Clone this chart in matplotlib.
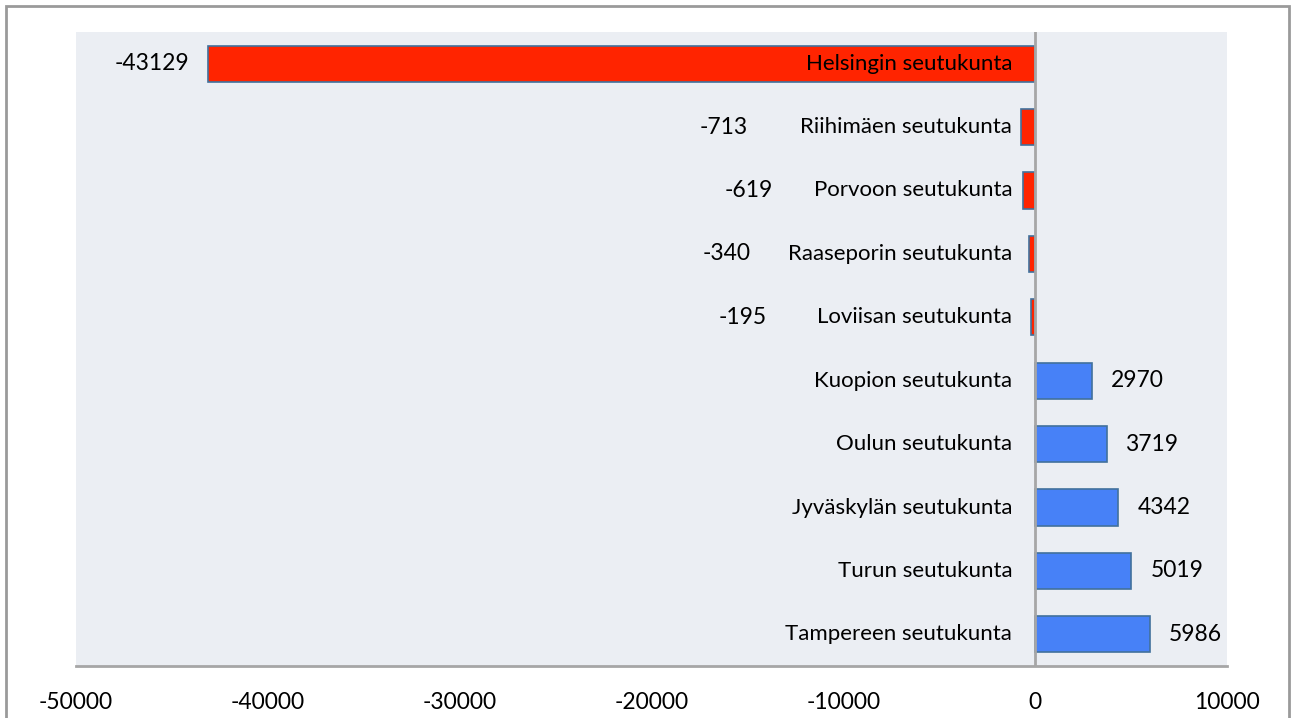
import matplotlib
matplotlib.use("Agg")
import matplotlib.pyplot as plt
from matplotlib.patches import Rectangle

categories = ["Helsingin seutukunta", "Riihimäen seutukunta", "Porvoon seutukunta",
              "Raaseporin seutukunta", "Loviisan seutukunta", "Kuopion seutukunta",
              "Oulun seutukunta", "Jyväskylän seutukunta", "Turun seutukunta",
              "Tampereen seutukunta"]
values = [-43129, -713, -619, -340, -195, 2970, 3719, 4342, 5019, 5986]
xticks = [-50000, -40000, -30000, -20000, -10000, 0, 10000]
xtick_labels = ["-50000", "-40000", "-30000", "-20000", "-10000", "0", "10000"]
# right-edge x (data units) of the manually placed negative value labels
neg_label_x = [None, -14963, -13660, -14807, -13973]

plt.rcParams['font.family'] = ['Lato', 'DejaVu Sans']
W, H = 1291, 718
fig = plt.figure(figsize=(W / 100, H / 100), dpi=100)
fig.patch.set_facecolor("white")

# outer border
fig.add_artist(Rectangle((6 / W, -0.01), (1289 - 6) / W, (718 - 6) / H + 0.01,
                         transform=fig.transFigure, fill=False,
                         edgecolor="#9a9a9a", linewidth=2))

ax = fig.add_axes([76 / W, (H - 666) / H, (1227 - 76) / W, (666 - 32) / H])
ax.set_facecolor("#EBEEF3")

red = "#FF2400"
blue = "#4781F7"
edge = "#41719C"
ypos = list(range(len(categories)))
colors = [red if v < 0 else blue for v in values]
ax.barh(ypos, values, height=0.57, color=colors, edgecolor=edge, linewidth=1.2, zorder=2)

ax.set_xlim(-50000, 10000)
ax.set_ylim(len(categories) - 0.5, -0.5)
ax.axvline(0, color="#A6A6A6", linewidth=2, zorder=3)

fs = 16
nfs = 16.5
for i, (cat, v) in enumerate(zip(categories, values)):
    ax.annotate(cat, xy=(0, i), xytext=(-23, 0), textcoords="offset pixels",
                ha="right", va="center", fontsize=fs, color="black", zorder=4)
    if v >= 0:
        ax.annotate(str(v), xy=(v, i), xytext=(19, 0), textcoords="offset pixels",
                    ha="left", va="center", fontsize=nfs, color="black", zorder=4)
    elif neg_label_x[i] is None:
        ax.annotate(str(v), xy=(v, i), xytext=(-19, 0), textcoords="offset pixels",
                    ha="right", va="center", fontsize=nfs, color="black", zorder=4)
    else:
        ax.annotate(str(v), xy=(neg_label_x[i], i), xytext=(0, 0), textcoords="offset pixels",
                    ha="right", va="center", fontsize=nfs, color="black", zorder=4)

ax.set_xticks(xticks)
ax.set_xticklabels(xtick_labels, fontsize=nfs)
ax.set_yticks([])
ax.tick_params(axis="x", length=0, pad=19)
for s in ["top", "right", "left"]:
    ax.spines[s].set_visible(False)
ax.spines["bottom"].set_color("#A6A6A6")
ax.spines["bottom"].set_linewidth(2)

fig.savefig("out.png", dpi=100)
